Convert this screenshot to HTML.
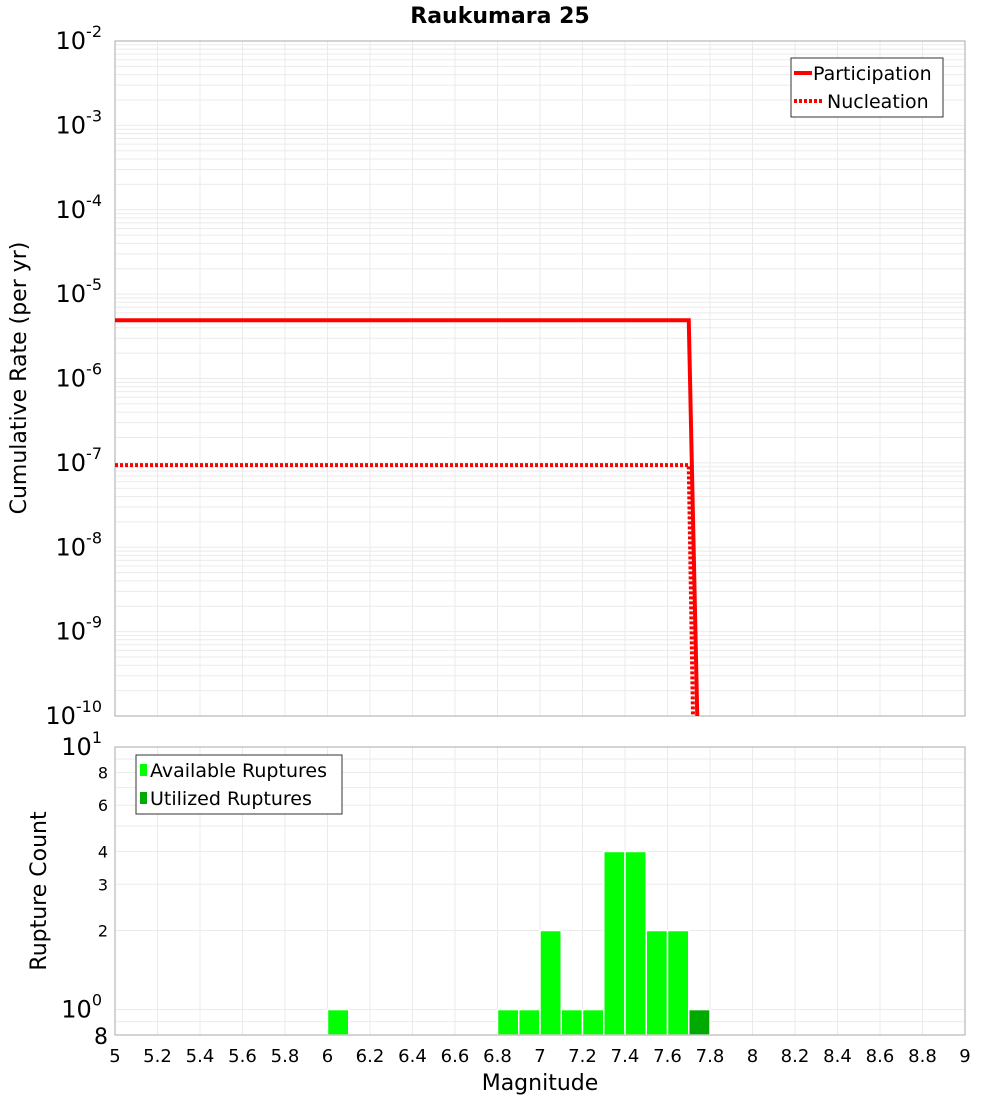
<!DOCTYPE html>
<html><head><meta charset="utf-8"><style>body{margin:0;background:#fff}svg{display:block;font-family:"DejaVu Sans","Liberation Sans",sans-serif}</style></head>
<body>
<svg id="c" width="1000" height="1100">
<text x="500" y="23" text-anchor="middle" font-size="22" font-weight="bold">Raukumara 25</text>
<g id="topPlot"></g>
<g id="botPlot"></g>
<text transform="translate(26,378) rotate(-90)" text-anchor="middle" font-size="22">Cumulative Rate (per yr)</text>
<text transform="translate(46,891) rotate(-90)" text-anchor="middle" font-size="22">Rupture Count</text>
<text x="540" y="1090" text-anchor="middle" font-size="22">Magnitude</text>
</svg>
<script>
const partM=[5,7.7,7.74];
const partR=[4.9e-6,4.9e-6,1e-10];
const nuclM=[5,7.7,7.72];
const nuclR=[9.4e-8,9.4e-8,1e-10];
const binStart=[6.0,6.8,6.9,7.0,7.1,7.2,7.3,7.4,7.5,7.6,7.7];
const availCount=[1,1,1,2,1,1,4,4,2,2,1];
const utilStart=[7.7];
const utilCount=[1];
const xTicks=[5,5.2,5.4,5.6,5.8,6,6.2,6.4,6.6,6.8,7,7.2,7.4,7.6,7.8,8,8.2,8.4,8.6,8.8,9];
const topDecades=[-2,-3,-4,-5,-6,-7,-8,-9,-10];
const botTicks=[0.8,1,2,3,4,6,8,10];

const NS="http://www.w3.org/2000/svg";
function mk(p,t,a){const e=document.createElementNS(NS,t);for(const k in a)e.setAttribute(k,a[k]);p.appendChild(e);return e;}
const PL=115,PR=965;
const X=m=>PL+(m-5)/4*(PR-PL);
const T0=41,T1=716;
const YT=v=>T0+(-2-Math.log10(v))/8*(T1-T0);
const B0=747,B1=1035;
const YB=v=>B0+(1-Math.log10(v))/(1-Math.log10(0.8))*(B1-B0);
const topG=document.getElementById('topPlot'),botG=document.getElementById('botPlot');

for(let d=-10;d<-2;d++)for(let k=1;k<10;k++){const y=YT(k*Math.pow(10,d));const l=mk(topG,'line',{x1:PL,x2:PR,y1:y,y2:y,stroke:'#ebebeb','stroke-width':1});

}
xTicks.forEach(m=>{const x=X(m);const l=mk(topG,'line',{x1:x,x2:x,y1:T0,y2:T1,stroke:'#ebebeb'});


const l2=mk(botG,'line',{x1:x,x2:x,y1:B0,y2:B1,stroke:'#ebebeb'});

});
let r=mk(topG,'rect',{x:PL,y:T0,width:PR-PL,height:T1-T0,fill:'none',stroke:'#aaa'});


topDecades.forEach(d=>{const t=mk(topG,'text',{x:102,y:YT(Math.pow(10,d))+8,'text-anchor':'end','font-size':24});t.textContent='10';const s=mk(t,'tspan',{dy:-12,'font-size':16});s.textContent=String(d);

});
function drawLine(m,v,dash,name){const p=mk(topG,'polyline',{points:m.map((q,i)=>X(q)+','+YT(v[i])).join(' '),fill:'none',stroke:'#f00','stroke-width':4});if(dash)p.setAttribute('stroke-dasharray','3,2');

}
drawLine(nuclM,nuclR,true,'nucleation-line');
drawLine(partM,partR,false,'participation-line');
let lg=mk(topG,'g',{});


mk(lg,'rect',{x:791,y:58,width:152,height:59,fill:'#fff',stroke:'#333'});
mk(lg,'line',{x1:794,x2:812,y1:73,y2:73,stroke:'#f00','stroke-width':4});
mk(lg,'line',{x1:794,x2:822,y1:101,y2:101,stroke:'#f00','stroke-width':4,'stroke-dasharray':'3,2'});
let tx=mk(lg,'text',{x:813,y:80,'font-size':19});tx.textContent='Participation';
tx=mk(lg,'text',{x:827,y:108,'font-size':19});tx.textContent='Nucleation';

[0.8,0.9,1,2,3,4,5,6,7,8,9,10].forEach(v=>{const y=YB(v);const l=mk(botG,'line',{x1:PL,x2:PR,y1:y,y2:y,stroke:'#ebebeb'});

});
binStart.forEach((m,i)=>{const b=mk(botG,'rect',{x:X(m),y:YB(availCount[i]),width:X(m+0.1)-X(m),height:YB(0.8)-YB(availCount[i]),fill:'#00ff00',stroke:'#fff','stroke-width':1.5});

});
utilStart.forEach((m,i)=>{const b=mk(botG,'rect',{x:X(m),y:YB(utilCount[i]),width:X(m+0.1)-X(m),height:YB(0.8)-YB(utilCount[i]),fill:'#00aa00',stroke:'#fff','stroke-width':1.5});

});
r=mk(botG,'rect',{x:PL,y:B0,width:PR-PL,height:B1-B0,fill:'none',stroke:'#aaa'});


botTicks.forEach(v=>{const y=YB(v);let t;
if(v===1||v===10){t=mk(botG,'text',{x:102,y:y+8,'text-anchor':'end','font-size':24});t.textContent='10';const s=mk(t,'tspan',{dy:-12,'font-size':16});s.textContent=v===1?'0':'1';}
else if(v===0.8){t=mk(botG,'text',{x:108,y:y+9,'text-anchor':'end','font-size':22});t.textContent='8';}
else{t=mk(botG,'text',{x:108,y:y+6,'text-anchor':'end','font-size':16});t.textContent=String(v);}

});
xTicks.forEach(m=>{const t=mk(botG,'text',{x:X(m),y:1062,'text-anchor':'middle','font-size':18});t.textContent=String(m);

});
lg=mk(botG,'g',{});


mk(lg,'rect',{x:136,y:755,width:206,height:59,fill:'#fff',stroke:'#333'});
mk(lg,'rect',{x:140,y:764,width:7,height:12,fill:'#00ff00'});
mk(lg,'rect',{x:140,y:792,width:7,height:12,fill:'#00aa00'});
tx=mk(lg,'text',{x:150,y:777,'font-size':19});tx.textContent='Available Ruptures';
tx=mk(lg,'text',{x:150,y:805,'font-size':19});tx.textContent='Utilized Ruptures';
</script>
</body></html>
